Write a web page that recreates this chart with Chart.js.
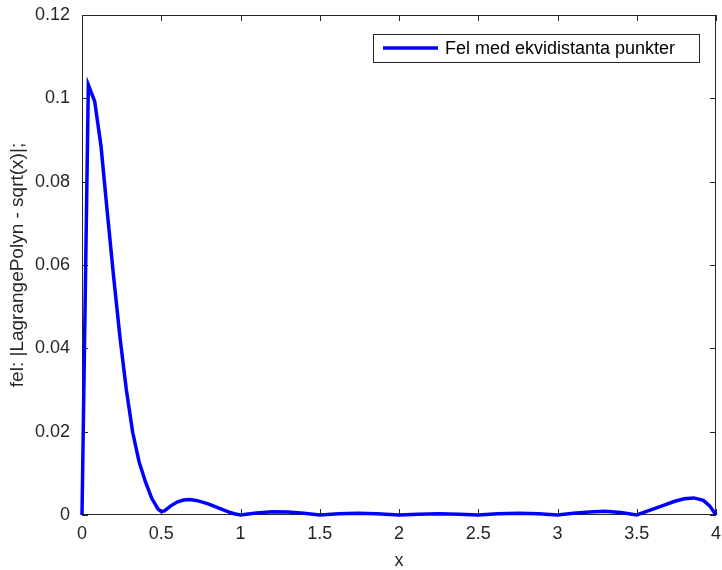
<!DOCTYPE html>
<html lang="sv">
<head>
<meta charset="UTF-8">
<title>Fel med ekvidistanta punkter</title>
<script src="https://cdn.jsdelivr.net/npm/chart.js@4.4.1/dist/chart.umd.min.js"></script>
<style>
  html, body { margin: 0; padding: 0; background: #fff; }
</style>
</head>
<body>
<canvas id="errChart" width="722" height="570"></canvas>
<script>
// error curve
const xValues = [0, 0.04, 0.08, 0.12, 0.16, 0.2, 0.24, 0.28, 0.32, 0.36, 0.4, 0.44, 0.48, 0.5, 0.52,
  0.56, 0.6, 0.64, 0.68, 0.72, 0.76, 0.8, 0.84, 0.88, 0.92, 0.96, 1.0, 1.1, 1.2, 1.3, 1.4, 1.5,
  1.62, 1.74, 1.86, 2.0, 2.12, 2.25, 2.38, 2.5, 2.62, 2.76, 2.88, 3.0, 3.1, 3.2, 3.3, 3.4, 3.5,
  3.58, 3.66, 3.74, 3.8, 3.86, 3.92, 3.96, 4.0]
const errValues = [0, 0.1032, 0.0993, 0.0885, 0.0725, 0.0570, 0.0425, 0.0300, 0.0198, 0.0128, 0.0080, 0.0040, 0.0014, 0.0008, 0.0010,
  0.0022, 0.0031, 0.0036, 0.0037, 0.0035, 0.0031, 0.0026, 0.0020, 0.0014, 0.0008, 0.0003, 0, 0.0005, 0.0008, 0.0007, 0.0004, 0,
  0.0003, 0.0004, 0.0003, 0, 0.0002, 0.0003, 0.0002, 0, 0.0003, 0.0004, 0.0003, 0, 0.0004, 0.0007, 0.0009, 0.0006, 0,
  0.0011, 0.0022, 0.0033, 0.0039, 0.0041, 0.0035, 0.0022, 0]
const xTicks = [0, 0.5, 1, 1.5, 2, 2.5, 3, 3.5, 4]
const yTicks = [0, 0.02, 0.04, 0.06, 0.08, 0.1, 0.12]
const seriesLabel = "Fel med ekvidistanta punkter"

const FONT = "'Liberation Sans', Arial, Helvetica, sans-serif"
const AXIS = "#262626"

// MATLAB style box with inward ticks on all four sides, plus the legend box
const boxPlugin = {
  id: "box",
  beforeDatasetsDraw(chart) {
    const { ctx, chartArea: a, scales } = chart
    ctx.save()
    ctx.strokeStyle = AXIS
    ctx.lineWidth = 1
    ctx.strokeRect(a.left + 0.5, a.top + 0.5, a.width - 1, a.height - 1)
    ctx.beginPath()
    xTicks.forEach(v => {
      const px = Math.round(scales.x.getPixelForValue(v)) + 0.5
      ctx.moveTo(px, a.bottom); ctx.lineTo(px, a.bottom - 6)
      ctx.moveTo(px, a.top); ctx.lineTo(px, a.top + 6)
    })
    yTicks.forEach(v => {
      const py = Math.round(scales.y.getPixelForValue(v)) + 0.5
      ctx.moveTo(a.left, py); ctx.lineTo(a.left + 6, py)
      ctx.moveTo(a.right, py); ctx.lineTo(a.right - 6, py)
    })
    ctx.stroke()
    ctx.restore()
  },
  afterDraw(chart) {
    const { ctx } = chart
    ctx.save()
    ctx.fillStyle = "#fff"
    ctx.fillRect(373, 34, 326, 28)
    ctx.strokeStyle = AXIS
    ctx.lineWidth = 1
    ctx.strokeRect(373.5, 34.5, 326, 28)
    ctx.strokeStyle = "#0000ff"
    ctx.lineWidth = 3.5
    ctx.beginPath()
    ctx.moveTo(383, 48); ctx.lineTo(438, 48)
    ctx.stroke()
    ctx.fillStyle = "#000"
    ctx.font = "18px " + FONT
    ctx.textBaseline = "middle"
    ctx.fillText(seriesLabel, 445, 49)
    ctx.restore()
  }
}

new Chart(document.getElementById("errChart"), {
  type: "line",
  data: {
    datasets: [{
      label: seriesLabel,
      data: xValues.map((x, i) => ({ x, y: errValues[i] })),
      borderColor: "#0000ff",
      borderWidth: 3.5,
      pointRadius: 0,
      tension: 0,
      fill: false,
      clip: 4
    }]
  },
  options: {
    responsive: false,
    devicePixelRatio: 1,
    animation: false,
    layout: { padding: { top: 15, right: 6, left: 0, bottom: 0 } },
    plugins: { legend: { display: false }, tooltip: { enabled: false } },
    scales: {
      x: {
        type: "linear",
        min: 0,
        max: 4,
        afterBuildTicks: s => { s.ticks = xTicks.map(v => ({ value: v })) },
        afterFit: s => { s.height = 55; s.paddingLeft = 0; s.paddingRight = 0 },
        grid: { display: false, drawTicks: false },
        border: { display: false },
        ticks: { color: AXIS, padding: 8, font: { family: FONT, size: 18 }, maxRotation: 0, callback: v => String(v) },
        title: { display: true, text: "x", color: AXIS, font: { family: FONT, size: 18, lineHeight: 1 }, padding: { top: 0, bottom: 0 } }
      },
      y: {
        type: "linear",
        min: 0,
        max: 0.12,
        afterBuildTicks: s => { s.ticks = yTicks.map(v => ({ value: v })) },
        afterFit: s => { s.width = 82; s.paddingTop = 0; s.paddingBottom = 0 },
        grid: { display: false, drawTicks: false },
        border: { display: false },
        ticks: { color: AXIS, padding: 12, font: { family: FONT, size: 18 }, callback: v => String(v) },
        title: { display: true, text: "fel: |LagrangePolyn - sqrt(x)|;", color: AXIS, font: { family: FONT, size: 19, lineHeight: 1.1 }, padding: { top: 7, bottom: 0 } }
      }
    }
  },
  plugins: [boxPlugin]
})
</script>
</body>
</html>
